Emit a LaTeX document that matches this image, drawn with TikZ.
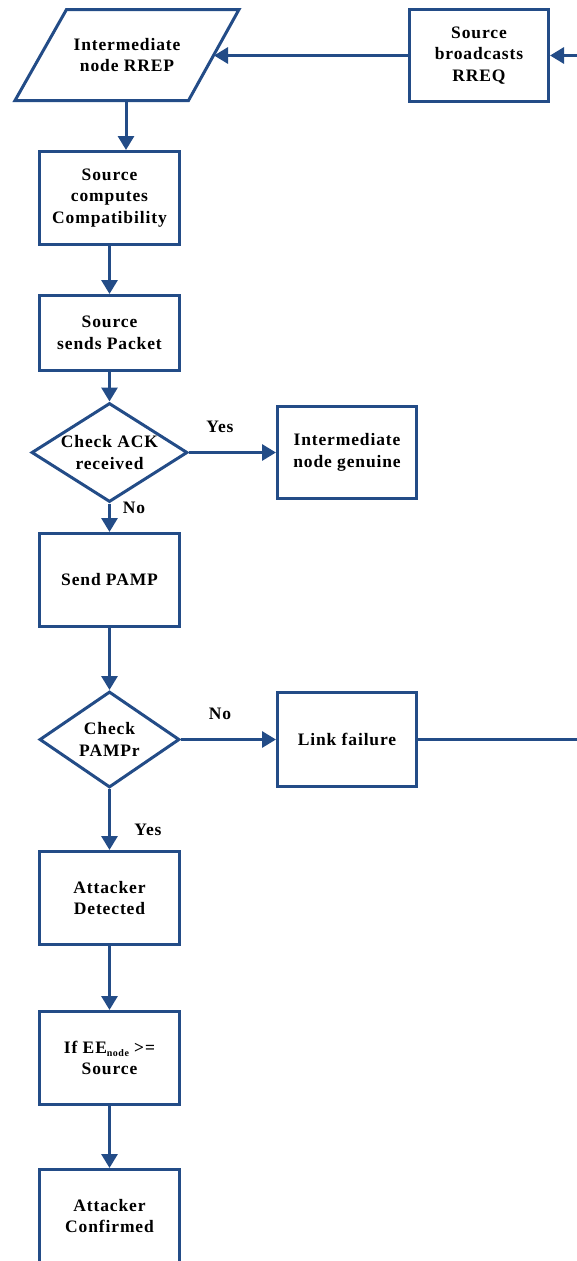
\documentclass[tikz,border=0pt]{standalone}
\usepackage{fontspec}
\setmainfont[LetterSpace=5]{Liberation Serif}
\usetikzlibrary{shapes.geometric,arrows.meta}
\definecolor{fc}{RGB}{35,76,135}
\begin{document}
\begin{tikzpicture}[x=1pt,y=-1pt,
  txt/.style={font=\fontsize{17.5}{21.5}\selectfont\bfseries, align=center},
  box/.style={txt, draw=fc, line width=3pt, rectangle, minimum width=140pt, minimum height=93pt, inner sep=1pt},
  dec/.style={txt, draw=fc, line width=3pt, diamond, inner sep=0pt},
  shp/.style={draw=fc, line width=3pt},
  lbl/.style={txt, inner sep=0pt},
  arr/.style={draw=fc, line width=3pt, -{Triangle[width=16pt,length=14pt]}},
  ln/.style={draw=fc, line width=3pt}]
\useasboundingbox (0,0) rectangle (577,1261);
\clip (0,0) rectangle (577,1261);

% parallelogram (data shape)
\draw[shp] (66.5,9.5) -- (239,9.5) -- (188.5,100.5) -- (15,100.5) -- cycle;
\node[txt] (rrep) at (127,55) {Intermediate\\node RREP};
\coordinate (rrepE) at (214,55.5);
\coordinate (rrepS) at (126,100.5);

\node[box, minimum width=139pt, minimum height=92pt] (rreq) at (479,55.5) {Source\\broadcasts\\RREQ};
\node[box] (comp) at (109.5,198) {Source\\computes\\Compatibility};
\node[box, minimum height=75pt] (send) at (109.5,333) {Source\\sends Packet};
\node[dec, aspect=1.56, minimum width=156pt, minimum height=99pt] (ack) at (109.5,452.5) {Check ACK\\received};
\node[box, minimum width=139pt, minimum height=92pt] (gen) at (347,452.5) {Intermediate\\node genuine};
\node[box] (pamp) at (109.5,580) {Send PAMP};
\node[dec, aspect=1.45, minimum width=140pt, minimum height=96pt] (pampr) at (109.5,739.5) {Check\\PAMPr};
\node[box, minimum width=139pt, minimum height=94pt] (link) at (347,739.5) {Link failure};
\node[box] (det) at (109.5,898) {Attacker\\Detected};
\node[box] (ee) at (109.5,1058) {If EE\raisebox{-0.35ex}{\fontsize{10}{10}\selectfont node} >=\\Source};
\node[box] (conf) at (109.5,1216) {Attacker\\Confirmed};

\node[lbl] (y1) at (220,427) {Yes};
\node[lbl] (n1) at (134,508) {No};
\node[lbl] (n2) at (220,714) {No};
\node[lbl] (y2) at (148,830) {Yes};

\coordinate (inR) at (585,55.5);
\coordinate (outR) at (585,739.5);

\draw[arr] (inR) -- (rreq.east);
\draw[arr] (rreq.west) -- (rrepE);
\draw[arr] (rrepS) -- (rrepS |- comp.north);
\draw[arr] (comp) -- (send);
\draw[arr] (send) -- (ack);
\draw[arr] (ack) -- (gen);
\draw[arr] (ack) -- (pamp);
\draw[arr] (pamp) -- (pampr);
\draw[arr] (pampr) -- (link);
\draw[ln] (link.east) -- (outR);
\draw[arr] (pampr) -- (det);
\draw[arr] (det) -- (ee);
\draw[arr] (ee) -- (conf);
\end{tikzpicture}
\end{document}
